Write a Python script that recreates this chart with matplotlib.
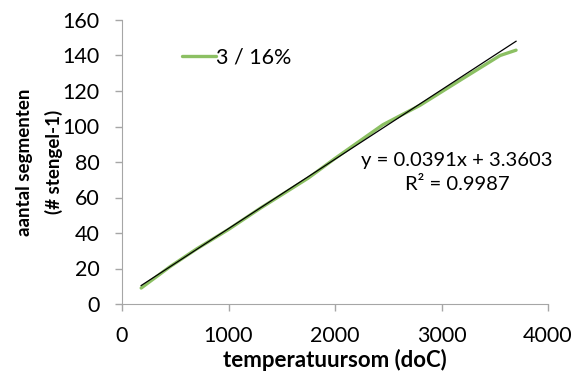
import matplotlib.pyplot as plt
import numpy as np

plt.rcParams['font.family'] = ['Lato', 'DejaVu Sans']

# temperature sum (degree days) vs number of segments
temp_sum = [180, 450, 700, 1000, 1300, 1750, 2000, 2450, 2800, 3200, 3550, 3700]
segments = [9, 21, 31, 42, 54, 71, 82, 101, 112, 127, 140, 143]
series_label = '3 / 16%'

# linear trendline coefficients
slope = 0.0391
intercept = 3.3603
r_squared = 0.9987

fig = plt.figure(figsize=(5.79, 3.78), dpi=100)
ax = fig.add_axes([122 / 579, 1 - 304 / 378, (548 - 122) / 579, (304 - 20) / 378])

ax.plot(temp_sum, segments, color='#8cc063', lw=2.4, label=series_label,
        solid_capstyle='round', zorder=2)

xt = np.array([temp_sum[0], temp_sum[-1]])
ax.plot(xt, slope * xt + intercept, color='black', lw=0.9, zorder=3)

ax.set_xlim(0, 4000)
ax.set_ylim(0, 160)
ax.set_xticks(range(0, 4001, 1000))
ax.set_yticks(range(0, 161, 20))

for s in ['top', 'right']:
    ax.spines[s].set_visible(False)
for s in ['left', 'bottom']:
    ax.spines[s].set_color('#a6a6a6')
ax.tick_params(colors='#a6a6a6', labelcolor='black', labelsize=15.5, length=5, width=1)
ax.tick_params(axis='x', pad=11)
ax.tick_params(axis='y', pad=11)

ax.set_xlabel('temperatuursom (doC)', fontsize=16, fontweight='bold', labelpad=2)
ax.set_ylabel('aantal segmenten\n(# stengel-1)', fontsize=13.5, fontweight='bold',
              labelpad=0, linespacing=1.75)

ax.text(3146, 74, f'y = {slope}x + {intercept}\nR² = {r_squared}', fontsize=14.6,
        ha='center', va='center', linespacing=1.45)

ax.legend(loc='upper left', bbox_to_anchor=(0.095, 0.97), frameon=False, fontsize=15.5,
          handlelength=1.6, handletextpad=0.0)

fig.savefig('out.png', dpi=100)
